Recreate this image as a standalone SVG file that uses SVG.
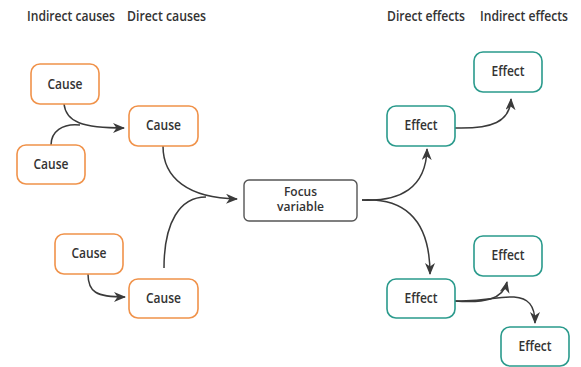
<svg xmlns="http://www.w3.org/2000/svg" width="581" height="367" viewBox="0 0 581 367">
<defs>
<marker id="arr" viewBox="0 0 12 10" refX="11" refY="5" markerWidth="12" markerHeight="10" markerUnits="userSpaceOnUse" orient="auto">
<path d="M0,0 L12,5 L0,10 L3.5,5 Z" fill="#3a3a3a"/>
</marker>
<style>
.hdr{font-family:"Open Sans","DejaVu Sans",sans-serif;font-size:14px;font-weight:600;fill:#333;}
.lbl{font-family:"Open Sans","DejaVu Sans",sans-serif;font-size:14px;font-weight:600;fill:#333;text-anchor:middle;}
.fl{font-family:"Open Sans","DejaVu Sans",sans-serif;font-size:12px;font-weight:600;fill:#333;text-anchor:middle;}
.cause{fill:#fff;stroke:#F0924A;stroke-width:1.6;}
.effect{fill:#fff;stroke:#2A9A8C;stroke-width:1.6;}
.focus{fill:#fff;stroke:#555;stroke-width:1.4;}
.c{fill:none;stroke:#3a3a3a;stroke-width:1.5;}
</style>
</defs>
<rect width="581" height="367" fill="#fff"/>
<g id="headers">
<text class="hdr" x="27" y="21" textLength="88" lengthAdjust="spacingAndGlyphs">Indirect causes</text>
<text class="hdr" x="127" y="21" textLength="79" lengthAdjust="spacingAndGlyphs">Direct causes</text>
<text class="hdr" x="387" y="21" textLength="78" lengthAdjust="spacingAndGlyphs">Direct effects</text>
<text class="hdr" x="480" y="21" textLength="88" lengthAdjust="spacingAndGlyphs">Indirect effects</text>
</g>
<g id="connectors">
<path class="c" d="M64,104 C66,122 82,128 124,128" marker-end="url(#arr)"/>
<path class="c" d="M51,145 C51,132 62,123 80,125"/>
<path class="c" d="M163,146 C163,178 188,198 237,199" marker-end="url(#arr)"/>
<path class="c" d="M164,268 C164,222 180,197 206,197"/>
<path class="c" d="M88,274 C88,292 96,297 125,297" marker-end="url(#arr)"/>
<path class="c" d="M362,200 C400,202 426,188 427,149" marker-end="url(#arr)"/>
<path class="c" d="M362,200 C400,198 430,215 430,274" marker-end="url(#arr)"/>
<path class="c" d="M455,128 C492,129 510,122 511,99" marker-end="url(#arr)"/>
<path class="c" d="M455,301 C484,303 503,300 507,282" marker-end="url(#arr)"/>
<path class="c" d="M455,301 C488,302 495,296 514,297 C528,298 535,305 535,323" marker-end="url(#arr)"/>
</g>
<g id="cause1"><rect class="cause" x="31" y="64" width="68" height="40" rx="9"/><text class="lbl" x="65" y="89" textLength="35" lengthAdjust="spacingAndGlyphs">Cause</text></g>
<g id="cause2"><rect class="cause" x="17" y="145" width="68" height="39" rx="9"/><text class="lbl" x="51" y="169" textLength="35" lengthAdjust="spacingAndGlyphs">Cause</text></g>
<g id="cause3"><rect class="cause" x="129" y="106" width="69" height="40" rx="9"/><text class="lbl" x="163.5" y="130" textLength="35" lengthAdjust="spacingAndGlyphs">Cause</text></g>
<g id="cause4"><rect class="cause" x="55" y="234" width="68" height="40" rx="9"/><text class="lbl" x="89" y="258" textLength="35" lengthAdjust="spacingAndGlyphs">Cause</text></g>
<g id="cause5"><rect class="cause" x="129" y="279" width="69" height="39" rx="9"/><text class="lbl" x="163.5" y="303" textLength="35" lengthAdjust="spacingAndGlyphs">Cause</text></g>
<g id="focus"><rect class="focus" x="244" y="180" width="113" height="41" rx="5"/><text class="fl" x="300.5" y="195.5" textLength="33" lengthAdjust="spacingAndGlyphs">Focus</text><text class="fl" x="300.5" y="211" textLength="47" lengthAdjust="spacingAndGlyphs">variable</text></g>
<g id="effect1"><rect class="effect" x="387" y="106" width="68" height="40" rx="9"/><text class="lbl" x="421" y="130" textLength="33" lengthAdjust="spacingAndGlyphs">Effect</text></g>
<g id="effect2"><rect class="effect" x="474" y="52" width="68" height="40" rx="9"/><text class="lbl" x="508" y="76" textLength="33" lengthAdjust="spacingAndGlyphs">Effect</text></g>
<g id="effect3"><rect class="effect" x="387" y="279" width="68" height="39" rx="9"/><text class="lbl" x="421" y="303" textLength="33" lengthAdjust="spacingAndGlyphs">Effect</text></g>
<g id="effect4"><rect class="effect" x="474" y="236" width="68" height="40" rx="9"/><text class="lbl" x="508" y="260" textLength="33" lengthAdjust="spacingAndGlyphs">Effect</text></g>
<g id="effect5"><rect class="effect" x="501" y="327" width="68" height="39" rx="9"/><text class="lbl" x="535" y="351" textLength="33" lengthAdjust="spacingAndGlyphs">Effect</text></g>
</svg>
